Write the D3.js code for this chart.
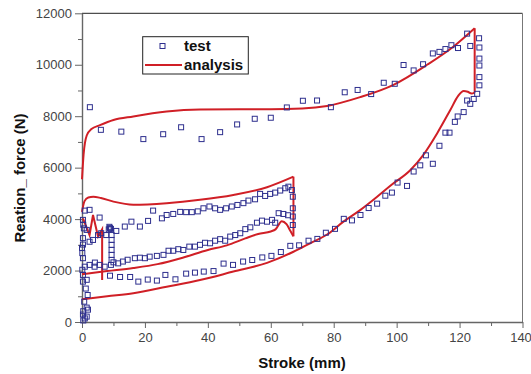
<!DOCTYPE html>
<meta charset="utf-8" />
<style>
  body { margin: 0; background: #fff; }
  text { font-family: Arial, "Liberation Sans", sans-serif; }
  .tick text { font-size: 13px; fill: #444; }
  .tick line, .domain { stroke: #666; }
  .title { font-size: 15px; font-weight: bold; fill: #111; }
</style>
<svg width="531" height="374"></svg>
<script src="https://d3js.org/d3.v7.min.js"></script>
<script>
  // axis ticks
  var xTicks = [0, 20, 40, 60, 80, 100, 120, 140];
  var xMinor = [10, 30, 50, 70, 90, 110, 130];
  var yTicks = [0, 2000, 4000, 6000, 8000, 10000, 12000];
  var yMinor = [1000, 3000, 5000, 7000, 9000, 11000];

  // test points [stroke mm, force N]
  var testStart = [
    [0.4, 60], [1.5, 210], [0.9, 140], [0.3, 290], [0.4, 420], [1.9, 480], [1.5, 560],
    [0.7, 790], [1.8, 1050], [1.2, 1300], [0.3, 1570], [1.5, 1640], [0.3, 1830],
    [0.1, 2030], [0.9, 2150], [0.3, 2480], [0.1, 2680], [0, 2880], [0.3, 3010],
    [0.3, 3260], [0.6, 3640], [0.4, 3780], [0.3, 3970], [0.9, 4330], [2.4, 4360],
    [5.6, 4060], [2.4, 3120], [3.5, 3190], [5.1, 3380], [6.1, 3450], [7.7, 3380],
    [1.5, 3580], [2.4, 2220], [4, 2150], [5.6, 2220], [7.2, 2150], [4.1, 2310],
    [8.5, 3600], [8.9, 3650], [9.2, 3620], [8.7, 3700], [9.4, 3380], [9.4, 3190],
    [9.4, 3000], [9.4, 2800], [9.4, 2610], [9.4, 2410], [9.2, 2220]
  ];
  var testTop = [
    [2.5, 8350], [6, 7470], [12.5, 7400], [19.5, 7110], [25.8, 7300], [31.5, 7570],
    [38, 7110], [43.9, 7380], [49.3, 7680], [54.9, 7900], [60, 7940], [65.1, 8340],
    [70.2, 8600], [74.7, 8610], [79.1, 8350], [83.5, 8930], [87.6, 9020], [91.9, 8860],
    [95.9, 9300], [99.4, 9260], [102.2, 9990], [105.4, 9780], [108.4, 10020],
    [111.5, 10440], [113.6, 10500], [115.5, 10610], [117.4, 10760], [119.5, 10650],
    [122.4, 11210], [123.4, 10730], [126.2, 11030], [126.3, 10670], [126.3, 10240],
    [126.3, 9970], [126.3, 9520], [126.3, 9200]
  ];
  var testBottom = [
    [8.9, 1800], [12.1, 1750], [15.3, 1750], [17.9, 1570], [20.9, 1650], [23.8, 1610],
    [26.5, 1830], [29.7, 1660], [33.1, 1880], [35.9, 1920], [38.7, 1960], [41.8, 1980],
    [45, 2270], [48, 2220], [51.2, 2350], [54.1, 2410], [57.3, 2510], [60.2, 2570],
    [63.2, 2720], [66.2, 2960], [69, 2980], [72, 3160], [74.8, 3230], [77.5, 3470],
    [80.4, 3620], [83.2, 4010], [85.8, 3950], [88.5, 4160], [91.1, 4430], [93.8, 4600],
    [96.4, 4910], [98.5, 5030], [100.3, 5420], [103.3, 5290], [105.4, 5850],
    [107.5, 6090], [109.3, 6480], [111.5, 6150], [113.6, 6850], [115.5, 7360],
    [116.8, 7360], [118.5, 7780], [119.4, 7990], [121.3, 8160], [122.4, 8610],
    [123.4, 8480], [124.5, 8670], [125.6, 8870]
  ];
  var testMidTop = [
    [10.9, 3540], [13.6, 3710], [15.7, 3900], [18.4, 3710], [21, 3930], [22.6, 4330],
    [25.4, 4030], [26.9, 4160], [29, 4200], [31.2, 4280], [33.1, 4270], [34.9, 4270],
    [36.8, 4300], [38.6, 4420], [40.5, 4490], [42.3, 4420], [43.9, 4360], [45.8, 4420],
    [47.6, 4490], [49.4, 4550], [51.3, 4620], [52.9, 4720], [55, 4770], [56.6, 4980],
    [58.2, 4900], [59.8, 4980], [61.4, 5030], [63, 5110], [64.6, 5200], [65.6, 5260],
    [66.7, 5130], [67, 4870], [67, 4420], [67, 4100], [67, 3770]
  ];
  var testMidBottom = [
    [10, 2320], [11.5, 2280], [13, 2350], [14.5, 2420], [16.8, 2480], [18.4, 2500],
    [20, 2480], [21.5, 2540], [23.8, 2570], [25.9, 2610], [27.5, 2770], [29, 2770],
    [30.6, 2830], [32.2, 2800], [34.1, 2930], [35.9, 2930], [37.5, 3000], [39.1, 3080],
    [40.7, 3060], [42.3, 3160], [43.9, 3220], [45.5, 3160], [47.1, 3320], [48.7, 3380],
    [50.3, 3450], [51.9, 3610], [53.5, 3680], [55.6, 3860], [57.2, 3940], [58.8, 3900],
    [60.4, 3970], [61.4, 3860], [62.5, 4230], [64, 4200], [65.5, 4150]
  ];

  // analysis curve pieces
  var anaBottom = [
    [0, 880], [8, 1000], [16.3, 1120], [26.9, 1370], [37.5, 1630], [48.1, 1960],
    [58.8, 2300], [67.2, 2730], [72.5, 3060], [77.9, 3400], [83.1, 3900], [88.4, 4350],
    [93.8, 4870], [98, 5300], [104.4, 5910], [108.5, 6500], [112.9, 7340], [117.1, 8250],
    [119.5, 8780], [121.3, 8980], [122.6, 8950], [123.8, 8880], [124.8, 8920]
  ];
  var anaTop = [
    [0, 5550], [0.5, 6500], [1.5, 7250], [3, 7500], [5.7, 7650], [10, 7850],
    [16.3, 7990], [26.9, 8180], [37.5, 8260], [50, 8270], [60, 8270], [70, 8300],
    [77.9, 8400], [88.4, 8740], [99, 9220], [109.7, 10000], [118.1, 10710], [124.8, 11420]
  ];
  var anaMidTop = [
    [0, 4280], [0.8, 4700], [2, 4840], [3.6, 4870], [6, 4820], [10, 4680], [16.3, 4560],
    [26.9, 4620], [37.5, 4750], [48.1, 4940], [58.8, 5240], [67.2, 5650]
  ];
  var anaMidBottom = [
    [0, 1860], [8, 1980], [16.3, 2100], [24, 2250], [32, 2500], [40, 2800], [46, 2980],
    [51.9, 3250], [56, 3420], [60, 3520], [61.5, 3600], [63.5, 3920], [65, 3800],
    [66.2, 3550], [67.2, 3330]
  ];
  var anaVertical = [
    [[124.8, 8920], [124.8, 11420]],
    [[67.2, 5650], [67.2, 3330]]
  ];
  var anaZig = [[0.3, 4030], [2.4, 3380], [3.5, 4160], [5.1, 3320], [6.4, 3600], [6.4, 1630]];

  var svg = d3.select("svg");
  var x = d3.scaleLinear().domain([0, 140]).range([82, 522.5]);
  var y = d3.scaleLinear().domain([0, 12000]).range([322, 13.3]);

  // frame
  svg.append("line").attr("x1", 82).attr("x2", 522.5).attr("y1", 13.3).attr("y2", 13.3)
    .attr("stroke", "#222");
  svg.append("line").attr("x1", 522.5).attr("x2", 522.5).attr("y1", 13.3).attr("y2", 322)
    .attr("stroke", "#777");

  svg.append("g").attr("transform", "translate(0,322)")
    .call(d3.axisBottom(x).tickValues(xMinor).tickSize(4).tickFormat(""))
    .select(".domain").remove();
  svg.append("g").attr("transform", "translate(82,0)")
    .call(d3.axisLeft(y).tickValues(yMinor).tickSize(4).tickFormat(""))
    .select(".domain").remove();
  var xAxis = svg.append("g").attr("transform", "translate(0,322)")
    .call(d3.axisBottom(x).tickValues(xTicks).tickFormat(d3.format("d"))
      .tickSize(6).tickSizeOuter(0).tickPadding(5));
  // last label sits against the window edge, as in the original
  xAxis.selectAll(".tick text").filter(d => d === 140).attr("dx", -2);
  svg.append("g").attr("transform", "translate(82,0)")
    .call(d3.axisLeft(y).tickValues(yTicks).tickFormat(d3.format("d"))
      .tickSize(7).tickSizeOuter(0).tickPadding(3));
  svg.selectAll(".domain").attr("stroke-width", 1.4);

  // analysis lines
  var smooth = d3.line().x(d => x(d[0])).y(d => y(d[1])).curve(d3.curveMonotoneX);
  var straight = d3.line().x(d => x(d[0])).y(d => y(d[1]));
  var red = "#d01f26";
  [anaBottom, anaTop, anaMidTop, anaMidBottom].forEach(function(d) {
    svg.append("path").attr("d", smooth(d)).attr("fill", "none")
      .attr("stroke", red).attr("stroke-width", 2);
  });
  anaVertical.concat([anaZig]).forEach(function(d) {
    svg.append("path").attr("d", straight(d)).attr("fill", "none")
      .attr("stroke", red).attr("stroke-width", 2);
  });

  // test squares
  var blue = "#2e2f8e";
  var allTest = [].concat(testStart, testTop, testBottom, testMidTop, testMidBottom);
  svg.append("g").selectAll("rect").data(allTest).join("rect")
    .attr("x", d => x(d[0]) - 2.5).attr("y", d => y(d[1]) - 2.5)
    .attr("width", 5).attr("height", 5)
    .attr("fill", "none").attr("stroke", blue).attr("stroke-width", 1);

  // legend
  var lg = svg.append("g");
  lg.append("rect").attr("x", 142.7).attr("y", 36.7).attr("width", 105.6).attr("height", 37.3)
    .attr("fill", "#fff").attr("stroke", "#222");
  lg.append("rect").attr("x", 160).attr("y", 43.5).attr("width", 5).attr("height", 5)
    .attr("fill", "none").attr("stroke", blue);
  lg.append("line").attr("x1", 145).attr("x2", 182).attr("y1", 65).attr("y2", 65)
    .attr("stroke", red).attr("stroke-width", 2);
  lg.append("text").attr("class", "title").attr("x", 184).attr("y", 51).text("test");
  lg.append("text").attr("class", "title").attr("x", 184).attr("y", 70).text("analysis");

  // axis titles
  svg.append("text").attr("class", "title").attr("text-anchor", "middle")
    .attr("x", 302).attr("y", 368).text("Stroke (mm)");
  svg.append("text").attr("class", "title").attr("text-anchor", "middle")
    .attr("transform", "translate(25,178) rotate(-90)").text("Reation_ force (N)");
</script>
